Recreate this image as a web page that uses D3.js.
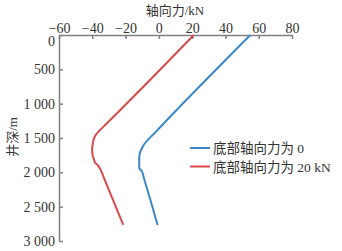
<!DOCTYPE html>
<html>
<head>
<meta charset="utf-8">
<script src="https://cdn.jsdelivr.net/npm/d3@7"></script>
<style>
  body { margin: 0; background: #fff; }
  svg text { font-family: "Liberation Serif", "Noto Sans CJK SC", serif; fill: #333; }
  .axis path, .axis line { stroke: #808080; stroke-width: 1.5; }
  .axis text { font-size: 14px; }
</style>
</head>
<body>
<div id="chart"></div>
<script>
var w = 342, h = 251;

// depth (m) and axial force (kN)
var depthBlue = [0, 1350, 1450, 1520, 1580, 1650, 1720, 1800, 1920, 1955, 1970, 2100, 2766];
var forceBlue = [55, 0.5, -3.4, -6.3, -8.5, -10.2, -11.4, -11.8, -11.8, -11.5, -10.5, -8.8, -0.8];

var depthRed = [0, 1300, 1400, 1450, 1500, 1580, 1674, 1760, 1820, 1860, 1893, 1990, 2111, 2766];
var forceRed = [21, -31.8, -36, -37.8, -38.9, -39.7, -40.1, -39.7, -38.9, -38.3, -36.8, -34.5, -32.5, -21.4];

var seriesNames = ["底部轴向力为 0", "底部轴向力为 20 kN"];
var seriesColors = ["#3b88c8", "#d94a4b"];
var xTicks = [-60, -40, -20, 0, 20, 40, 60, 80];
var yTicks = [0, 500, 1000, 1500, 2000, 2500, 3000];

var xScale = d3.scaleLinear().domain([-60, 80]).range([59, 292]);
var yScale = d3.scaleLinear().domain([0, 3000]).range([35, 241]);

var fmt = d3.formatLocale({ decimal: ".", thousands: " ", grouping: [3], minus: "\u2212" }).format(",");

var svg = d3.select("#chart").append("svg")
  .attr("width", w)
  .attr("height", h);

// top x axis, ticks point inward
svg.append("g")
  .attr("class", "axis")
  .attr("transform", "translate(0," + yScale(0) + ")")
  .call(d3.axisTop(xScale).tickValues(xTicks).tickFormat(fmt).tickSizeInner(-4).tickSizeOuter(0).tickPadding(2));

// left y axis
var yAxisG = svg.append("g")
  .attr("class", "axis")
  .attr("transform", "translate(" + xScale(-60) + ",0)")
  .call(d3.axisLeft(yScale).tickValues(yTicks).tickFormat(fmt).tickSizeInner(-4).tickSizeOuter(0).tickPadding(4));
yAxisG.selectAll(".tick text").filter(function(d) { return d === 0; }).attr("dy", "0.75em");

// axis titles
svg.append("text")
  .attr("x", 175).attr("y", 15)
  .attr("text-anchor", "middle")
  .style("font-size", "13px")
  .text("轴向力/kN");

svg.append("text")
  .attr("transform", "translate(17,137) rotate(-90)")
  .attr("text-anchor", "middle")
  .style("font-size", "13px")
  .text("井深/m");

// curves
var line = d3.line()
  .x(function(d) { return xScale(d[0]); })
  .y(function(d) { return yScale(d[1]); })
  .curve(d3.curveMonotoneY);

var blue = d3.zip(forceBlue, depthBlue);
var red = d3.zip(forceRed, depthRed);

[blue, red].forEach(function(s, i) {
  svg.append("path")
    .datum(s)
    .attr("fill", "none")
    .attr("stroke", seriesColors[i])
    .attr("stroke-width", 2)
    .attr("stroke-linejoin", "round")
    .attr("d", line);
});

// legend
var legend = svg.append("g").attr("transform", "translate(190,148)");
seriesNames.forEach(function(name, i) {
  var g = legend.append("g").attr("transform", "translate(0," + (i * 18.5) + ")");
  g.append("line")
    .attr("x1", 0).attr("x2", 20)
    .attr("stroke", seriesColors[i])
    .attr("stroke-width", 2);
  g.append("text")
    .attr("x", 23).attr("y", 5)
    .style("font-size", "13.5px")
    .text(name);
});
</script>
</body>
</html>
